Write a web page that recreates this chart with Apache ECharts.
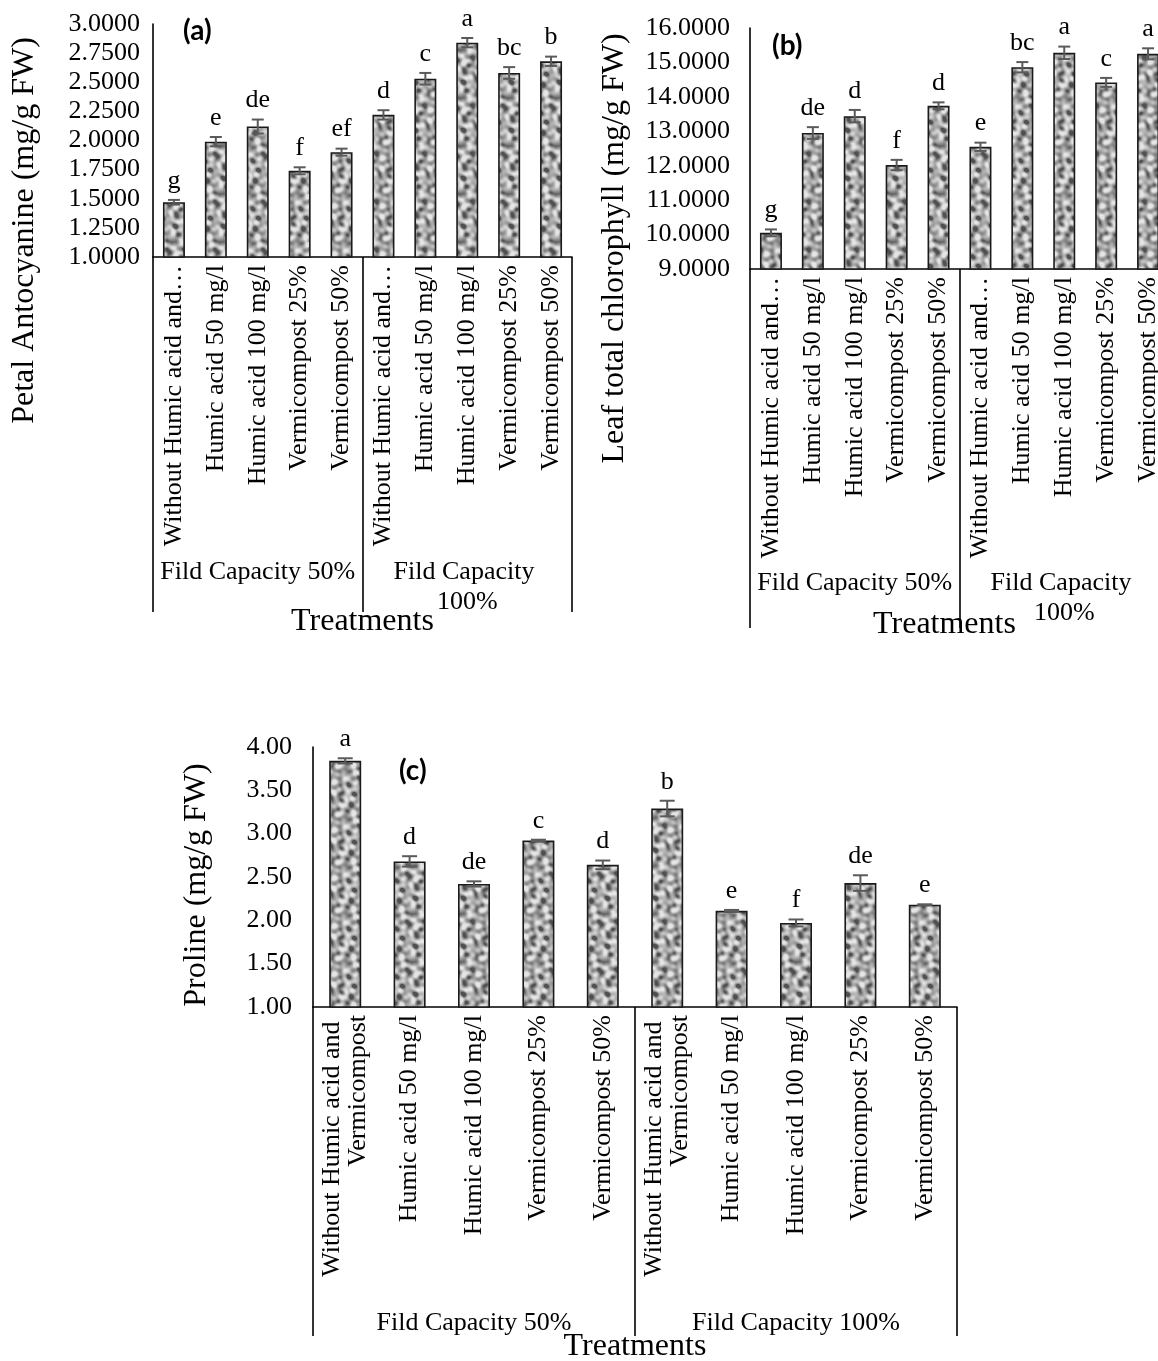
<!DOCTYPE html>
<html>
<head>
<meta charset="utf-8">
<script src="https://cdn.jsdelivr.net/npm/echarts@6/dist/echarts.min.js"></script>
<style>
  html, body { margin: 0; padding: 0; background: #fff; overflow: hidden; }
  #chart { width: 1180px; height: 1361px; }
</style>
</head>
<body>
<div id="chart"></div>
<script>
// Treatments (10 bars per panel: two field-capacity levels x five amendments)
const treatments = [
  'Without Humic acid and Vermicompost', 'Humic acid 50 mg/l', 'Humic acid 100 mg/l', 'Vermicompost 25%', 'Vermicompost 50%',
  'Without Humic acid and Vermicompost', 'Humic acid 50 mg/l', 'Humic acid 100 mg/l', 'Vermicompost 25%', 'Vermicompost 50%'
];
const capacityGroups = ['Fild Capacity 50%', 'Fild Capacity 100%'];

// (a) Petal anthocyanin, mg/g FW
const anthocyanin = [1.47, 1.99, 2.12, 1.74, 1.90, 2.22, 2.53, 2.84, 2.58, 2.68];
const anthocyaninErr = [0.02, 0.04, 0.06, 0.03, 0.03, 0.04, 0.05, 0.04, 0.05, 0.04];
const anthocyaninLetters = ['g', 'e', 'de', 'f', 'ef', 'd', 'c', 'a', 'bc', 'b'];

// (b) Leaf total chlorophyll, mg/g FW
const chlorophyll = [10.05, 12.95, 13.44, 12.02, 13.74, 12.55, 14.86, 15.28, 14.42, 15.25];
const chlorophyllErr = [0.10, 0.17, 0.18, 0.15, 0.10, 0.12, 0.15, 0.18, 0.13, 0.16];
const chlorophyllLetters = ['g', 'de', 'd', 'f', 'd', 'e', 'bc', 'a', 'c', 'a'];

// (c) Proline, mg/g FW
const proline = [3.84, 2.68, 2.42, 2.92, 2.64, 3.29, 2.11, 1.97, 2.43, 2.18];
const prolineErr = [0.03, 0.06, 0.03, 0.01, 0.05, 0.09, 0.01, 0.04, 0.09, 0.005];
const prolineLetters = ['a', 'd', 'de', 'c', 'd', 'b', 'e', 'f', 'de', 'e'];

const SERIF = "'Liberation Serif', 'Times New Roman', serif";

// Mottled grey fill used inside every bar (tileable sum of sinusoids, many directions)
function makeTexture() {
  const N = 48;
  const c = document.createElement('canvas');
  c.width = N; c.height = N;
  const ctx = c.getContext('2d');
  const img = ctx.createImageData(N, N);
  const terms = [
    [3, 1, 0.3, 1.0], [1, 4, 1.7, 1.0], [-3, 3, 2.9, 1.0], [4, 2, 0.4, 0.9],
    [-4, 1, 4.2, 0.9], [2, -5, 5.5, 0.9], [5, 0, 2.2, 0.8], [0, 6, 3.7, 0.8],
    [-4, -4, 1.1, 0.7], [6, -3, 0.9, 0.6], [3, 6, 2.6, 0.6], [-6, 4, 4.8, 0.5],
    [2, 2, 3.1, 0.8], [-2, 3, 5.9, 0.7], [8, -1, 1.4, 0.35], [4, -7, 0.2, 0.35]
  ];
  let norm = 0;
  terms.forEach(t => { norm += t[3] * t[3] / 2; });
  norm = Math.sqrt(norm);
  for (let y = 0; y < N; y++) {
    for (let x = 0; x < N; x++) {
      let s = 0;
      terms.forEach(([m, n, p, a]) => { s += a * Math.sin(2 * Math.PI * (m * x + n * y) / N + p); });
      s /= norm;
      let g = 168 + 40 * s;
      if (s < -1.0) g -= 28 * (-1.0 - s);
      g = Math.max(80, Math.min(228, g));
      const k = (y * N + x) * 4;
      img.data[k] = img.data[k + 1] = img.data[k + 2] = g;
      img.data[k + 3] = 255;
    }
  }
  ctx.putImageData(img, 0, 0);
  return c;
}
const texture = makeTexture();

// Panel geometry
const panels = [
  { grid: { left: 153, top: 24, width: 419, height: 233 }, min: 1, max: 3, interval: 0.25, digits: 4,
    values: anthocyanin, err: anthocyaninErr, letters: anthocyaninLetters,
    name: 'Petal Antocyanine (mg/g FW)', nameGap: 112, nameShift: 180, labelMargin: 13,
    catMode: 'truncate', catWidth: 283, barWidth: 22, cap: 12,
    boxDepth: 355, groupMargin: -55, groupWidth: 200, treatGap: -6, treatShift: 0 },
  { grid: { left: 750, top: 28, width: 419, height: 241 }, min: 9, max: 16, interval: 1, digits: 4,
    values: chlorophyll, err: chlorophyllErr, letters: chlorophyllLetters,
    name: 'Leaf total chlorophyll (mg/g FW)', nameGap: 119, nameShift: 200, labelMargin: 20,
    catMode: 'truncate', catWidth: 283, barWidth: 22, cap: 12,
    boxDepth: 359, groupMargin: -60, groupWidth: 200, treatGap: -19, treatShift: 30 },
  { grid: { left: 313, top: 747, width: 644, height: 260 }, min: 1, max: 4, interval: 0.5, digits: 2,
    values: proline, err: prolineErr, letters: prolineLetters,
    name: 'Proline (mg/g FW)', nameGap: 100, nameShift: 16, labelMargin: 21,
    catMode: 'break', catWidth: 270, barWidth: 32, cap: 15,
    boxDepth: 329, groupMargin: -28, groupWidth: 320, treatGap: -5, treatShift: 0 }
];

const grids = [], xAxes = [], yAxes = [], series = [];
panels.forEach((p, k) => {
  grids.push(Object.assign({ containLabel: false, outerBoundsMode: 'none' }, p.grid));
  // treatment labels
  xAxes.push({
    type: 'category', gridIndex: k, data: treatments, position: 'bottom',
    axisLine: { show: true, lineStyle: { color: '#000', width: 1.6 } },
    axisTick: { show: false },
    axisLabel: {
      interval: 0, rotate: 90, margin: 8, color: '#000', fontFamily: SERIF, fontSize: 26,
      width: p.catWidth, overflow: p.catMode, ellipsis: '…', lineHeight: 26
    }
  });
  // field-capacity groups, with the box lines drawn as inward ticks
  xAxes.push({
    type: 'category', gridIndex: k, data: capacityGroups, position: 'bottom', offset: p.boxDepth,
    axisLine: { show: false },
    axisTick: { show: true, inside: true, length: p.boxDepth, lineStyle: { color: '#000', width: 1.6 } },
    axisLabel: {
      interval: 0, margin: p.groupMargin, color: '#000', fontFamily: SERIF, fontSize: 26,
      width: p.groupWidth, overflow: 'break', lineHeight: 30
    },
    name: 'Treatments', nameLocation: 'middle', nameGap: p.treatGap, nameMoveOverlap: false,
    nameTextStyle: { color: '#000', fontFamily: SERIF, fontSize: 32, padding: [0, p.treatShift, 0, 0] }
  });
  yAxes.push({
    type: 'value', gridIndex: k, min: p.min, max: p.max, interval: p.interval,
    axisLine: { show: true, lineStyle: { color: '#000', width: 1.6 } },
    axisTick: { show: false }, splitLine: { show: false },
    axisLabel: { margin: p.labelMargin, color: '#000', fontFamily: SERIF, fontSize: 26,
      formatter: v => v.toFixed(p.digits) },
    name: p.name, nameLocation: 'middle', nameGap: p.nameGap, nameMoveOverlap: false,
    nameTextStyle: { color: '#000', fontFamily: SERIF, fontSize: 32, padding: [0, p.nameShift, 0, 0] }
  });
  series.push({
    type: 'bar', xAxisIndex: 2 * k, yAxisIndex: k, barWidth: p.barWidth,
    data: p.values,
    itemStyle: { color: { image: texture, repeat: 'repeat' }, borderColor: '#1a1a1a', borderWidth: 1.6 },
    z: 2
  });
  series.push({
    type: 'custom', xAxisIndex: 2 * k, yAxisIndex: k, z: 3,
    data: p.values.map((v, i) => [i, v, p.err[i]]),
    renderItem: (params, api) => {
      const i = api.value(0), v = api.value(1), e = api.value(2);
      const hi = api.coord([i, v + e]);
      const lo = api.coord([i, v - e]);
      const h = p.cap / 2;
      const st = { stroke: '#5a5a5a', lineWidth: 2 };
      return {
        type: 'group',
        children: [
          { type: 'line', shape: { x1: hi[0], y1: hi[1], x2: lo[0], y2: lo[1] }, style: st },
          { type: 'line', shape: { x1: hi[0] - h, y1: hi[1], x2: hi[0] + h, y2: hi[1] }, style: st },
          { type: 'line', shape: { x1: lo[0] - h, y1: lo[1], x2: lo[0] + h, y2: lo[1] }, style: st },
          { type: 'text', style: { text: p.letters[i], x: hi[0], y: hi[1] - 6,
              textAlign: 'center', textVerticalAlign: 'bottom',
              fontFamily: SERIF, fontSize: 26, fill: '#000' } }
        ]
      };
    }
  });
});

const chart = echarts.init(document.getElementById('chart'), null, { renderer: 'canvas' });
chart.setOption({
  animation: false,
  backgroundColor: '#fff',
  title: [
    { text: '(a)', left: 178, top: 12, textStyle: { fontFamily: 'Lato', fontWeight: 'bold', fontSize: 28, color: '#000' } },
    { text: '(b)', left: 767, top: 27, textStyle: { fontFamily: 'Lato', fontWeight: 'bold', fontSize: 28, color: '#000' } },
    { text: '(c)', left: 394, top: 752, textStyle: { fontFamily: 'Lato', fontWeight: 'bold', fontSize: 28, color: '#000' } }
  ],
  grid: grids,
  xAxis: xAxes,
  yAxis: yAxes,
  series: series
});
</script>
</body>
</html>
